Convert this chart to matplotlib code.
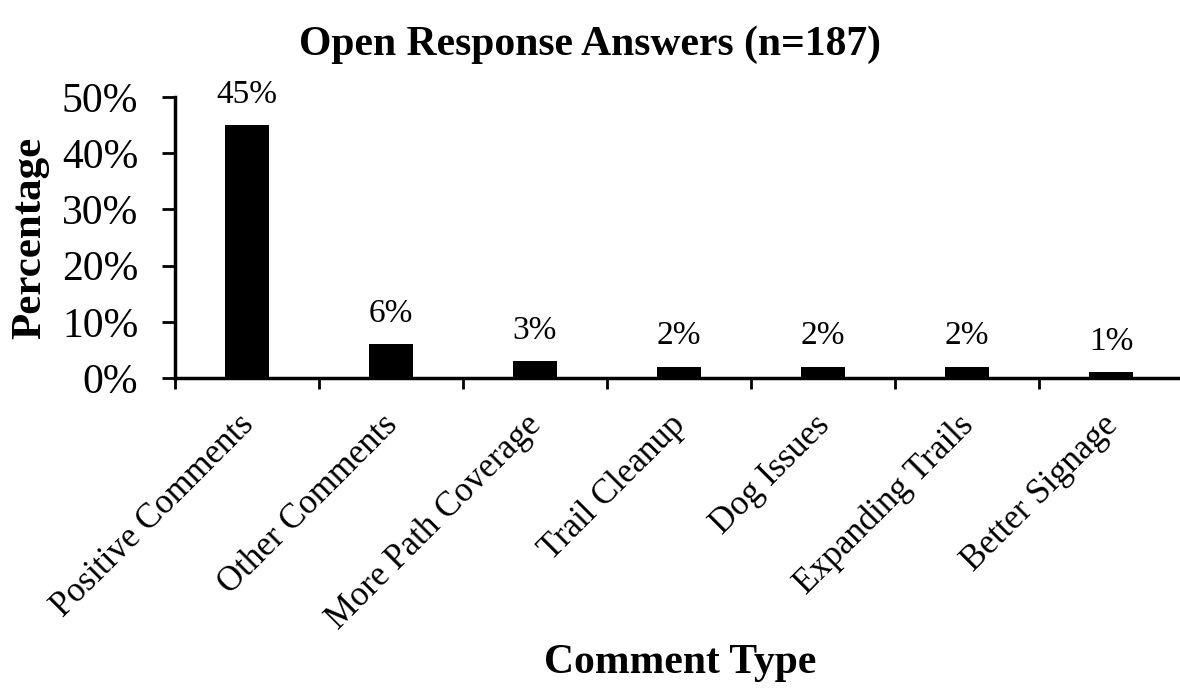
import matplotlib
matplotlib.use("Agg")
import matplotlib.pyplot as plt
from matplotlib.transforms import ScaledTranslation

categories = ["Positive Comments", "Other Comments", "More Path Coverage",
              "Trail Cleanup", "Dog Issues", "Expanding Trails", "Better Signage"]
values = [45, 6, 3, 2, 2, 2, 1]
yticks = [0, 10, 20, 30, 40, 50]
ytick_labels = ["0%", "10%", "20%", "30%", "40%", "50%"]

plt.rcParams['font.family'] = ['Liberation Serif', 'DejaVu Serif']

W, H = 1180, 692
fig = plt.figure(figsize=(W/100, H/100), dpi=100)
left, right, bottom, top = 175, 1183, 378, 97
ax = fig.add_axes([left/W, 1-bottom/H, (right-left)/W, (bottom-top)/H])

x = list(range(len(categories)))
ax.bar(x, values, width=0.3, color='black')
ax.set_xlim(-0.5, len(categories)-0.5)
ax.set_ylim(0, 50)

for xi, v in zip(x, values):
    ax.annotate(f"{v}%", (xi, v), xytext=(0, 11), textcoords='offset points',
                ha='center', va='bottom', fontsize=24)

ax.set_yticks(yticks)
ax.set_yticklabels(ytick_labels, fontsize=30)
ax.set_xticks([i - 0.5 for i in range(len(categories))], minor=False)
ax.set_xticklabels([])
ax.set_xticks(x, minor=True)
ax.set_xticklabels(categories, minor=True, rotation=45, ha='right',
                   rotation_mode='anchor', fontsize=25)
ax.tick_params(axis='x', which='minor', length=0, pad=22)
ax.tick_params(axis='x', which='major', direction='out', length=8, width=2)
ax.tick_params(axis='y', direction='out', length=9.5, width=2, pad=17)
off = ScaledTranslation(-10/100, 0, fig.dpi_scale_trans)
for lab in ax.get_xticklabels(minor=True):
    lab.set_transform(lab.get_transform() + off)

for s in ['top', 'right']:
    ax.spines[s].set_visible(False)
for s in ['left', 'bottom']:
    ax.spines[s].set_linewidth(2.5)

fig.text(0.5, 1-45/H, "Open Response Answers (n=187)", ha='center', va='center',
         fontsize=30, fontweight='bold')
fig.text(30/W, 1-238/H, "Percentage", ha='center', va='center', rotation=90,
         fontsize=31, fontweight='bold')
fig.text(680/W, 1-663/H, "Comment Type", ha='center', va='center',
         fontsize=30, fontweight='bold')

fig.savefig("out.png", dpi=100)
